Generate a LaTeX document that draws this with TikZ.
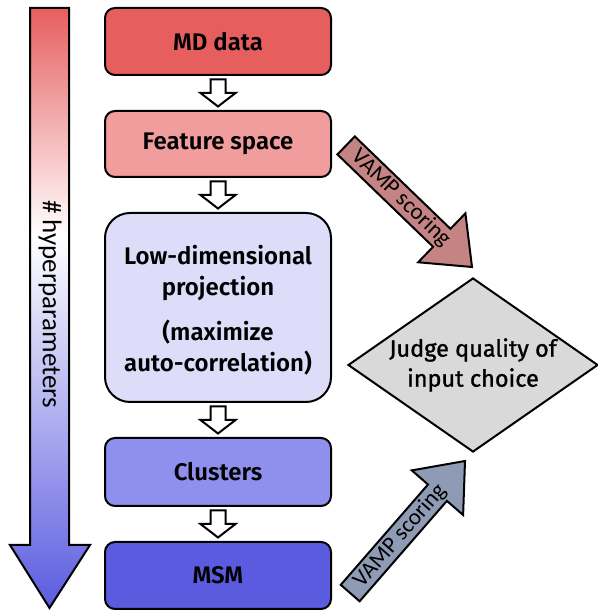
\documentclass[tikz,border=0pt]{standalone}
\usepackage{fontspec}
\IfFontExistsTF{Fira Sans SemiBold}
  {\setmainfont{Fira Sans}[BoldFont={Fira Sans SemiBold}]}
  {\setmainfont{Fira Sans}}
\newfontfamily\calib{Carlito}
\usetikzlibrary{positioning,shapes.geometric,calc}

\definecolor{mdred}{RGB}{231,94,94}
\definecolor{featred}{RGB}{242,157,157}
\definecolor{lowblue}{RGB}{221,221,250}
\definecolor{clublue}{RGB}{143,143,238}
\definecolor{msmblue}{RGB}{91,91,224}
\definecolor{judgegray}{RGB}{217,217,217}
\definecolor{vampred}{RGB}{196,132,132}
\definecolor{vampblue}{RGB}{143,155,180}

\pgfdeclareverticalshading{hypershade}{100bp}{color(0bp)=(msmblue); color(25bp)=(msmblue); color(56bp)=(white); color(75bp)=(mdred); color(100bp)=(mdred)}

\tikzset{
  stage/.style={draw, line width=2pt, rounded corners=10pt, minimum width=226pt, align=center,
    font=\bfseries\fontsize{24}{31}\selectfont},
  pics/downarrow/.style={code={
    \draw[line width=2pt, fill=white] (-7.5,13.5) -- (-7.5,0) -- (-17.5,0) -- (0,-13.5) -- (17.5,0) -- (7.5,0) -- (7.5,13.5) -- cycle;}},
  pics/vamp/.style={code={
    \draw[line width=2pt, fill=#1] (0,0) -- (-42,34) -- (-42,12.5) -- (-175,12.5) -- (-175,-12.5) -- (-42,-12.5) -- (-42,-34) -- cycle;
    \node[font=\calib\fontsize{23}{23}\selectfont] at (-99,0) {VAMP scoring};}}
}

\begin{document}
\begin{tikzpicture}[x=1pt, y=1pt, node distance=34pt]
  \useasboundingbox (0,0) rectangle (597,612);

  % hyperparameter arrow
  \shadedraw[shading=hypershade, line width=2pt] (30,604) -- (69,604) -- (69,67) -- (90,67) -- (49.5,4) -- (10,67) -- (30,67) -- cycle;
  \node[rotate=-90, font=\calib\fontsize{27}{27}\selectfont] (hyp) at (50,308) {\# hyperparameters};

  % pipeline
  \node[stage, fill=mdred, minimum height=67pt] (md) at (218,570.5) {MD data};
  \node[stage, fill=featred, minimum height=66pt, below=of md] (feat) {Feature space};
  \node[stage, fill=lowblue, minimum height=189pt, rounded corners=25pt, below=of feat] (low)
    {\rule{0pt}{8pt}\\[-14pt]Low-dimensional\\projection\\[14pt](maximize\\auto-correlation)};
  \node[stage, fill=clublue, minimum height=68pt, below=of low] (clu) {Clusters};
  \node[stage, fill=msmblue, minimum height=67pt, below=of clu] (msm) {MSM};

  \pic at ($(md.south)!0.5!(feat.north)$) {downarrow};
  \pic at ($(feat.south)!0.5!(low.north)$) {downarrow};
  \pic at ($(low.south)!0.5!(clu.north)$) {downarrow};
  \pic at ($(clu.south)!0.5!(msm.north)$) {downarrow};

  % judging
  \node[diamond, draw, line width=2pt, fill=judgegray, aspect=1.44, inner sep=0pt,
    minimum width=250pt, minimum height=174pt, align=center,
    font=\fontsize{23.5}{30}\selectfont\addfontfeatures{FakeBold=1.2}] (judge) at (473,247) {Judge quality of\\input choice};

  \pic[rotate=-44, transform shape] at ([shift={(-1,10)}]judge.north) {vamp=vampred};
  \pic[rotate=49, transform shape] at ([shift={(-8,-8)}]judge.south) {vamp=vampblue};
\end{tikzpicture}
\end{document}
